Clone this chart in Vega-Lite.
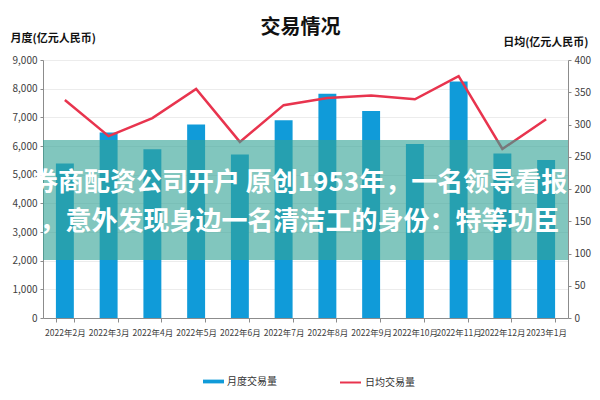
{
  "$schema": "https://vega.github.io/schema/vega-lite/v6.json",
  "width": 525,
  "height": 258,
  "autosize": "none",
  "padding": {"left": 43, "top": 60, "right": 32, "bottom": 82},
  "background": "white",
  "config": {
    "font": "Noto Sans CJK SC",
    "view": {"stroke": null},
    "axis": {"labelFont": "Liberation Sans Narrow, Noto Sans CJK SC", "titleFont": "Noto Sans CJK SC", "labelColor": "#404040", "labelFontSize": 10, "domainColor": "#8c8c8c", "tickColor": "#8c8c8c"}
  },
  "title": {"text": "交易情况", "fontSize": 20, "fontWeight": "bold", "color": "#111111", "anchor": "middle", "frame": "group", "offset": -6, "dx": -5},
  "datasets": {
    "trade": [
      {"month": "2022年2月", "vol": 5390, "daily": 338},
      {"month": "2022年3月", "vol": 6470, "daily": 282},
      {"month": "2022年4月", "vol": 5890, "daily": 310},
      {"month": "2022年5月", "vol": 6750, "daily": 355},
      {"month": "2022年6月", "vol": 5700, "daily": 273},
      {"month": "2022年7月", "vol": 6900, "daily": 330},
      {"month": "2022年8月", "vol": 7820, "daily": 341},
      {"month": "2022年9月", "vol": 7220, "daily": 345},
      {"month": "2022年10月", "vol": 6070, "daily": 339},
      {"month": "2022年11月", "vol": 8250, "daily": 375},
      {"month": "2022年12月", "vol": 5740, "daily": 262},
      {"month": "2023年1月", "vol": 5515, "daily": 308}
    ],
    "band": [{"lo": 2020, "hi": 6210}],
    "caption": [
      {"t": "券商配资公司开户 原创1953年，一名领导看报", "y": 4710},
      {"t": "，意外发现身边一名清洁工的身份：特等功臣", "y": 3350}
    ]
  },
  "layer": [
    {
      "data": {"name": "trade"},
      "mark": {"type": "bar", "fill": "#109bd9"},
      "encoding": {
        "x": {"field": "month", "type": "nominal", "sort": null,
          "scale": {"paddingInner": 0.59, "paddingOuter": 0.295},
          "axis": {"title": null, "labelAngle": 0, "tickBand": "extent", "tickSize": 4, "labelPadding": 6, "grid": false, "labelFontSize": 8.5}},
        "y": {"field": "vol", "type": "quantitative",
          "scale": {"domain": [0, 9000], "nice": false},
          "axis": {"orient": "left", "title": "月度(亿元人民币)", "titleAngle": 0, "titleX": -33, "titleY": -22, "titleAlign": "left", "titleBaseline": "middle", "titleFontSize": 11, "titleFontWeight": "bold", "titleColor": "#111111",
            "values": [0, 1000, 2000, 3000, 4000, 5000, 6000, 7000, 8000, 9000], "format": ",.0f", "grid": true, "gridColor": "#ececec", "tickSize": 3, "labelPadding": 3}},
        "fill": {"datum": "月度交易量", "type": "nominal",
          "scale": {"domain": ["月度交易量"], "range": ["#109bd9"]},
          "legend": {"orient": "none", "legendX": 160, "legendY": 311, "title": null, "symbolType": "M-1,-0.18H1V0.18H-1Z", "symbolSize": 441, "symbolStrokeWidth": 0, "labelFontSize": 10, "labelColor": "#333333", "labelOffset": 3}}
      }
    },
    {
      "data": {"name": "trade"},
      "mark": {"type": "line", "strokeWidth": 2.5},
      "encoding": {
        "x": {"field": "month", "type": "nominal", "sort": null},
        "y": {"field": "daily", "type": "quantitative",
          "scale": {"domain": [0, 400], "nice": false},
          "axis": {"orient": "right", "title": "日均(亿元人民币)", "titleAngle": 0, "titleX": 20, "titleY": -18, "titleAlign": "right", "titleBaseline": "middle", "titleFontSize": 11, "titleFontWeight": "bold", "titleColor": "#111111",
            "values": [0, 50, 100, 150, 200, 250, 300, 350, 400], "grid": false, "tickSize": 3, "labelPadding": 3}},
        "stroke": {"datum": "日均交易量", "type": "nominal",
          "scale": {"domain": ["日均交易量"], "range": ["#e8344e"]},
          "legend": {"orient": "none", "legendX": 296, "legendY": 311, "title": null, "symbolType": "stroke", "symbolSize": 441, "symbolStrokeWidth": 2, "labelFontSize": 10, "labelColor": "#333333", "labelOffset": 3}}
      }
    },
    {
      "layer": [
        {
          "data": {"name": "band"},
          "mark": {"type": "rect", "fill": "#33a396", "opacity": 0.62},
          "encoding": {
            "y": {"field": "lo", "type": "quantitative", "scale": {"domain": [0, 9000], "nice": false}, "axis": null},
            "y2": {"field": "hi"}
          }
        },
        {
          "data": {"name": "caption"},
          "mark": {"type": "text", "fill": "white", "fontSize": 26, "fontWeight": "bold", "align": "center", "baseline": "middle", "dx": -6},
          "encoding": {
            "y": {"field": "y", "type": "quantitative", "scale": {"domain": [0, 9000], "nice": false}, "axis": null},
            "text": {"field": "t"}
          }
        }
      ]
    }
  ],
  "resolve": {"scale": {"y": "independent", "fill": "independent", "stroke": "independent"}}
}
